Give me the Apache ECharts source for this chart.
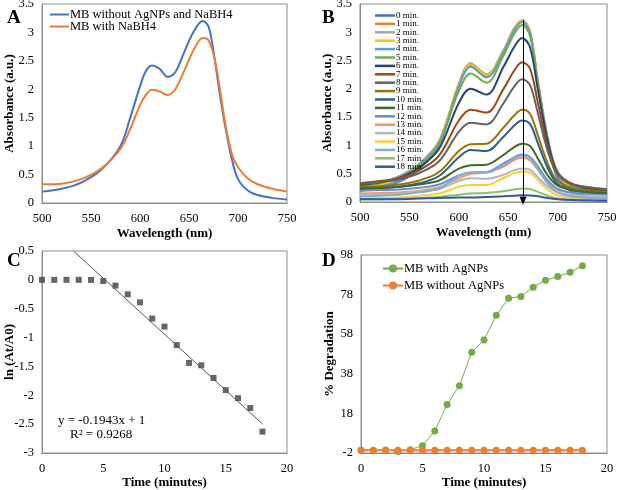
<!DOCTYPE html>
<html>
<head>
<meta charset="utf-8">
<script src="https://cdn.jsdelivr.net/npm/echarts@6/dist/echarts.min.js"></script>
<style>
  html, body { margin:0; padding:0; background:#fff; }
  #chart { width:617px; height:490px; }
</style>
</head>
<body>
<div id="chart"></div>
<script>
// ===== Panel A: spectra of MB
const wlA = [500,520,540,560,580,590,600,606,612,620,628,636,645,655,664,670,676,682,688,694,700,710,720,735,750];
const absNoAgNoBH4 = [0.20,0.25,0.36,0.58,1.00,1.50,2.05,2.32,2.42,2.36,2.22,2.30,2.65,3.02,3.20,3.10,2.55,1.85,1.25,0.75,0.42,0.22,0.14,0.09,0.06];
const absWithBH4   = [0.33,0.34,0.42,0.60,0.95,1.30,1.72,1.90,1.99,1.96,1.90,2.00,2.32,2.70,2.90,2.86,2.55,1.95,1.30,0.85,0.63,0.43,0.33,0.25,0.20];
const namesA = ['MB without AgNPs and NaBH4','MB with NaBH4'];

// ===== Panel B: spectra vs time
const wlB = [500,520,540,560,580,600,612,628,645,656,664,672,680,690,700,715,735,750];
const min0  = [0.20,0.25,0.36,0.58,1.00,2.05,2.42,2.22,2.65,3.05,3.20,2.98,2.10,1.05,0.42,0.18,0.09,0.06];
const min1  = [0.28,0.33,0.44,0.65,1.06,2.09,2.45,2.25,2.67,3.06,3.21,3.02,2.14,1.11,0.50,0.26,0.18,0.15];
const min2  = [0.30,0.35,0.46,0.68,1.08,2.09,2.45,2.26,2.68,3.07,3.21,3.02,2.15,1.14,0.54,0.31,0.23,0.20];
const min3  = [0.25,0.30,0.41,0.63,1.04,2.07,2.43,2.24,2.66,3.05,3.20,3.01,2.12,1.09,0.47,0.24,0.15,0.12];
const min4  = [0.22,0.27,0.38,0.60,1.01,2.04,2.39,2.20,2.64,3.03,3.18,2.99,2.10,1.07,0.45,0.21,0.13,0.10];
const min5  = [0.28,0.33,0.44,0.65,1.04,1.96,2.27,2.11,2.58,2.97,3.13,2.94,2.10,1.11,0.51,0.29,0.21,0.18];
const min6  = [0.30,0.35,0.43,0.61,0.94,1.75,2.00,1.90,2.38,2.74,2.90,2.74,1.99,1.08,0.51,0.31,0.23,0.20];
const min7  = [0.33,0.37,0.42,0.56,0.82,1.44,1.63,1.58,1.99,2.32,2.47,2.36,1.76,0.98,0.51,0.32,0.25,0.22];
const min8  = [0.32,0.35,0.40,0.51,0.72,1.24,1.40,1.37,1.74,2.04,2.17,2.07,1.57,0.90,0.49,0.32,0.25,0.23];
const min9  = [0.26,0.28,0.31,0.38,0.53,0.90,1.02,1.03,1.31,1.53,1.63,1.56,1.18,0.68,0.37,0.25,0.20,0.18];
const min10 = [0.22,0.24,0.27,0.33,0.46,0.79,0.92,0.90,1.15,1.35,1.44,1.38,1.04,0.60,0.32,0.21,0.17,0.15];
const min11 = [0.24,0.25,0.27,0.31,0.38,0.59,0.65,0.66,0.83,0.97,1.03,0.99,0.77,0.47,0.29,0.21,0.17,0.16];
const min12 = [0.20,0.21,0.22,0.25,0.31,0.47,0.52,0.53,0.68,0.79,0.84,0.80,0.63,0.38,0.23,0.16,0.13,0.12];
const min13 = [0.15,0.16,0.17,0.20,0.26,0.42,0.50,0.52,0.62,0.74,0.78,0.74,0.57,0.33,0.18,0.12,0.09,0.08];
const min14 = [0.13,0.14,0.15,0.18,0.23,0.37,0.42,0.41,0.48,0.56,0.59,0.57,0.44,0.27,0.17,0.12,0.11,0.10];
const min15 = [0.06,0.07,0.08,0.11,0.15,0.27,0.30,0.30,0.42,0.51,0.54,0.52,0.39,0.22,0.12,0.07,0.06,0.05];
const min16 = [0.10,0.11,0.13,0.17,0.24,0.46,0.52,0.52,0.65,0.77,0.82,0.78,0.59,0.33,0.17,0.10,0.07,0.06];
const min17 = [0.05,0.05,0.06,0.07,0.09,0.13,0.15,0.16,0.19,0.22,0.24,0.23,0.18,0.11,0.06,0.04,0.035,0.03];
const min18 = [0.05,0.05,0.05,0.06,0.07,0.08,0.08,0.09,0.10,0.11,0.12,0.115,0.10,0.07,0.05,0.035,0.025,0.02];
const spectraB = [min0,min1,min2,min3,min4,min5,min6,min7,min8,min9,min10,min11,min12,min13,min14,min15,min16,min17,min18];
const namesB = spectraB.map((_, i) => i + ' min.');
const colorsB = ['#4472C4','#ED7D31','#A5A5A5','#FFC000','#5B9BD5','#70AD47','#264478','#9E480E','#636363','#997300',
                 '#255E91','#43682B','#698ED0','#F1975A','#B7B7B7','#FFCD33','#7CAFDD','#8CC168','#335AA1'];
const arrowB = [[665, 3.22], [665, 0.02]];

// ===== Panel C: kinetics
const timeMin = [0,1,2,3,4,5,6,7,8,9,10,11,12,13,14,15,16,17,18];
const lnRatio = [0,0,0,0,0,-0.02,-0.10,-0.25,-0.39,-0.67,-0.81,-1.13,-1.44,-1.48,-1.70,-1.91,-2.05,-2.22,-2.63];
const trendSlope = -0.1943, trendIntercept = 1;
const trendX = [2.57, 18];

// ===== Panel D: degradation
const degWithAg    = [-0.6,-0.7,-0.5,-1.2,-0.3,1.7,9.1,22.5,32,48.9,55.1,67.6,76.2,77,81.7,85.2,87.1,89.3,92.6];
const degWithoutAg = [-0.6,-0.6,-0.6,-0.6,-0.6,-0.6,-0.6,-0.6,-0.6,-0.6,-0.6,-0.6,-0.6,-0.6,-0.6,-0.6,-0.6,-0.6,-0.6];
const namesD = ['MB with AgNPs','MB without AgNPs'];

// ===== Helpers
const FONT = '"Liberation Serif", "Times New Roman", serif';
const zip = (xs, ys) => xs.map((x, i) => [x, ys[i]]);

function mkGrid(left, top, width, height){
  return { left, top, width, height, show:true, borderColor:'#8c8c8c', borderWidth:1,
           backgroundColor:'transparent', containLabel:false, outerBoundsMode:'none' };
}
function mkAxis(gi, min, max, interval, name, gap, isY){
  return {
    type:'value', gridIndex:gi, min, max, interval,
    name, nameLocation:'middle', nameGap:gap, nameMoveOverlap:false,
    nameTextStyle:{ fontFamily:FONT, fontWeight:'bold', fontSize:13, color:'#000' },
    axisLine:{ show:true, onZero:false, lineStyle:{ color:'#8c8c8c', width:1 } },
    axisTick:{ show:false },
    splitLine:{ show:false },
    axisLabel:{ fontFamily:FONT, fontSize:12.5, color:'#000', margin: isY ? 8 : 9,
                showMinLabel:true, showMaxLabel:true }
  };
}

const series = [];
// A
[absNoAgNoBH4, absWithBH4].forEach((vals, i) => {
  series.push({ name:namesA[i], type:'line', xAxisIndex:0, yAxisIndex:0, smooth:0.35, symbol:'none',
    data: zip(wlA, vals), color: i ? '#ED7D31' : '#4472C4', lineStyle:{ width:2 } });
});
// B
spectraB.forEach((vals, i) => {
  const s = { name:namesB[i], type:'line', xAxisIndex:1, yAxisIndex:1, smooth:0.35, symbol:'none',
    data: zip(wlB, vals), color: colorsB[i], lineStyle:{ width:2 } };
  if (i === spectraB.length - 1) {
    s.markLine = { silent:true, symbol:['none','triangle'], symbolSize:[7,8],
      lineStyle:{ color:'#000', width:1, type:'solid' }, label:{ show:false },
      data:[[ { coord:arrowB[0] }, { coord:arrowB[1] } ]] };
  }
  series.push(s);
});
// C
series.push({ type:'line', xAxisIndex:2, yAxisIndex:2, symbol:'none', silent:true,
  data: trendX.map(x => [x, trendSlope * x + trendIntercept]),
  lineStyle:{ color:'#555', width:1 } });
series.push({ type:'scatter', xAxisIndex:2, yAxisIndex:2, symbol:'rect', symbolSize:6,
  data: zip(timeMin, lnRatio), itemStyle:{ color:'#404040' } });
// D
series.push({ name:namesD[0], type:'line', xAxisIndex:3, yAxisIndex:3, symbol:'circle', symbolSize:7,
  data: zip(timeMin, degWithAg), color:'#70AD47', lineStyle:{ width:1 } });
series.push({ name:namesD[1], type:'line', xAxisIndex:3, yAxisIndex:3, symbol:'circle', symbolSize:7,
  data: zip(timeMin, degWithoutAg), color:'#ED7D31', lineStyle:{ width:2 } });

const panelLetter = (t, x, y) => ({ type:'text', x, y,
  style:{ text:t, font:'bold 19px ' + FONT, fill:'#000' } });
const note = (t, x, y) => ({ type:'text', x, y,
  style:{ text:t, font:'13px ' + FONT, fill:'#000' } });

const option = {
  animation:false,
  backgroundColor:'#fff',
  textStyle:{ fontFamily:FONT },
  grid:[ mkGrid(42,4,245,199), mkGrid(360,4,247,198), mkGrid(42,251,245,202), mkGrid(361,255,246,198) ],
  xAxis:[
    mkAxis(0, 500, 750, 50, 'Wavelength (nm)', 24, false),
    mkAxis(1, 500, 750, 50, 'Wavelength (nm)', 24, false),
    mkAxis(2, 0, 20, 5, 'Time (minutes)', 23, false),
    mkAxis(3, 0, 20, 5, 'Time (minutes)', 23, false)
  ],
  yAxis:[
    mkAxis(0, 0, 3.5, 0.5, 'Absorbance (a.u.)', 26, true),
    mkAxis(1, 0, 3.5, 0.5, 'Absorbance (a.u.)', 26, true),
    mkAxis(2, -3, 0.5, 0.5, 'ln (At/A0)', 26, true),
    mkAxis(3, -2, 98, 20, '% Degradation', 25, true)
  ],
  legend:[
    { data:namesA, left:45, top:3, orient:'vertical', icon:'rect', itemWidth:19, itemHeight:2, itemGap:-1,
      textStyle:{ fontFamily:FONT, fontSize:12.5, color:'#000', lineHeight:12, padding:[0,0,0,-4] } },
    { data:namesB, left:370, top:6, orient:'vertical', icon:'rect', itemWidth:20, itemHeight:2.5, itemGap:-0.6,
      textStyle:{ fontFamily:FONT, fontSize:9, color:'#000', lineHeight:8.4, padding:[0,0,0,-4] } },
    { data:namesD, left:377, top:257, orient:'vertical', itemWidth:20, itemHeight:10, itemGap:4,
      textStyle:{ fontFamily:FONT, fontSize:12.5, color:'#000', lineHeight:12, padding:[0,0,0,-4] } }
  ],
  graphic:[
    panelLetter('A', 7, 9),
    panelLetter('B', 322, 9),
    panelLetter('C', 7, 252),
    panelLetter('D', 322, 252),
    note('y = -0.1943x + 1', 58, 414),
    note('R\u00b2 = 0.9268', 70, 428)
  ],
  series
};

const chart = echarts.init(document.getElementById('chart'), null, { renderer:'canvas' });
chart.setOption(option);
</script>
</body>
</html>
